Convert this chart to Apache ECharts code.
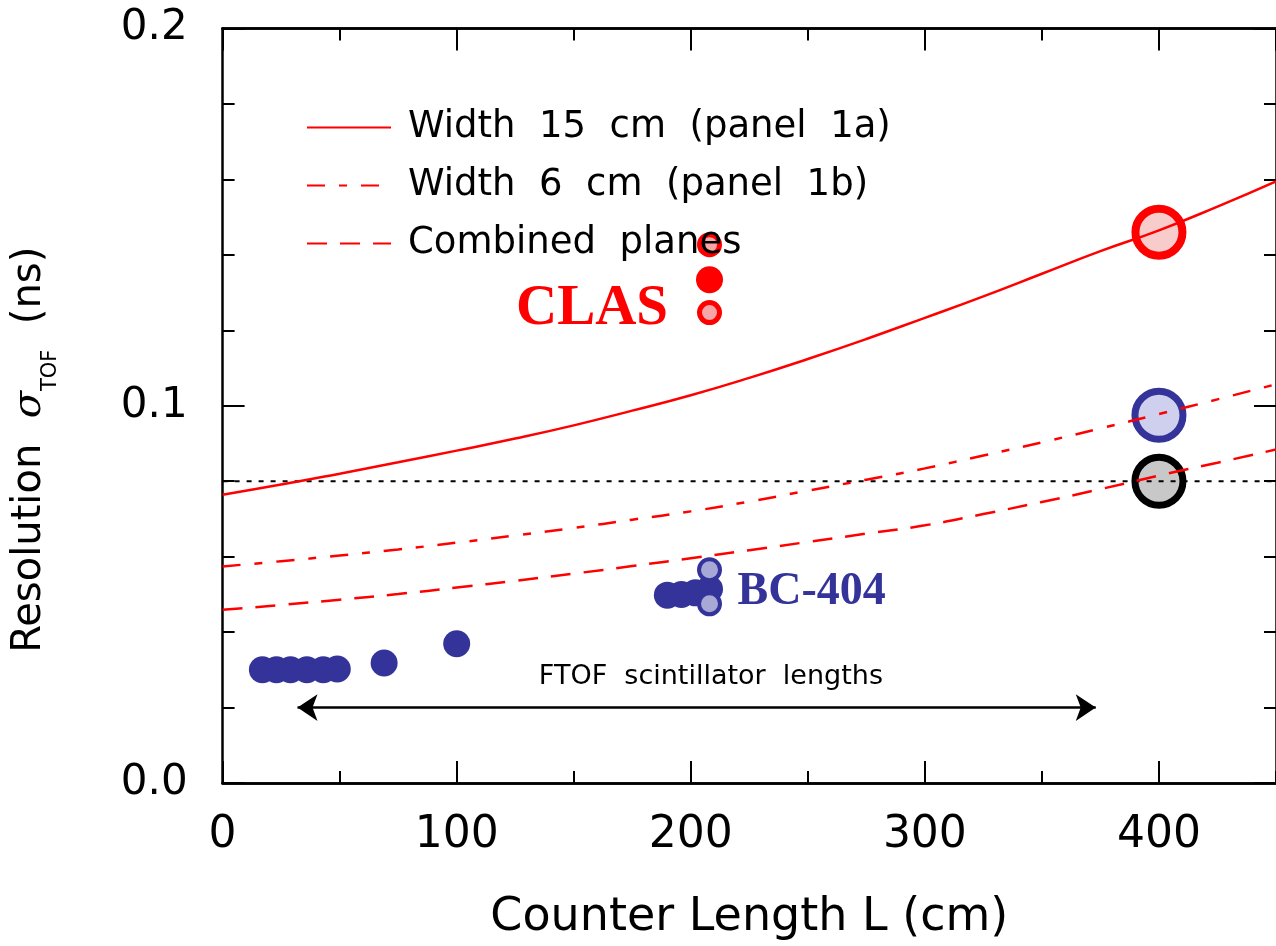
<!DOCTYPE html>
<html><head><meta charset="utf-8">
<script src="https://cdn.jsdelivr.net/npm/echarts@6/dist/echarts.min.js"></script>
<style>html,body{margin:0;padding:0;background:#fff}#c{width:1276px;height:946px}</style>
</head><body><div id="c"></div>
<script>
// ---- data ----
const lengths   = [0,25,50,75,100,125,150,175,200,225,250,275,300,325,350,375,400,425,450];
const width15   = [0.0764,0.0791,0.0820,0.0850,0.0881,0.0913,0.0948,0.0987,0.1028,0.1074,0.1124,0.1177,0.1233,0.1290,0.1350,0.1410,0.1465,0.1528,0.1595];
const width6    = [0.0574,0.0588,0.0603,0.0619,0.0637,0.0656,0.0676,0.0698,0.0720,0.0746,0.0775,0.0804,0.0834,0.0868,0.0903,0.0940,0.0978,0.1017,0.1057];
const combined  = [0.0459,0.0472,0.0486,0.0501,0.0518,0.0536,0.0555,0.0575,0.0596,0.0617,0.0639,0.0661,0.0683,0.0713,0.0745,0.0779,0.0815,0.0849,0.0884];
const thresholdL = [0, 450];
const thresholdSigma = [0.08, 0.08];
const bc404L     = [17,23,29,36,43,49,69,100,190,196,202,208];
const bc404Sigma = [0.0300,0.0300,0.0300,0.0300,0.0300,0.0302,0.0318,0.0369,0.0498,0.0500,0.0504,0.0514];
const bc404HatchL = [208,208];
const bc404HatchSigma = [0.0565,0.0475];
const clasFilledL = [208];
const clasFilledSigma = [0.1334];
const clasHatchL = [208,208];
const clasHatchSigma = [0.1427,0.1247];
const projL = [400];
const proj15Sigma = [0.1460];
const proj6Sigma = [0.0975];
const projCombSigma = [0.0800];
const arrowL = [32, 373];
const arrowSigma = 0.02;
const seriesNames = ['Width  15  cm  (panel  1a)','Width  6  cm  (panel  1b)','Combined  planes'];
const annotations = [
  {text:'CLAS', at:[190.3,0.1257], align:'right', color:'#ff0000', font:'bold 57px "Liberation Serif", serif'},
  {text:'BC-404', at:[220,0.0507], align:'left', color:'#333399', font:'bold 46px "Liberation Serif", serif'},
  {text:'FTOF  scintillator  lengths', at:[208.6,0.0281], align:'center', color:'#000', font:'27px "DejaVu Sans", sans-serif'}
];

const zip = (a,b) => a.map((v,i)=>[v,b[i]]);
const SANS='"DejaVu Sans", sans-serif';
const chart = echarts.init(document.getElementById('c'), null, {renderer:'canvas'});
const gridRect = {left:222.6, right:-9, top:28.5, bottom:163, containLabel:false};
const lineSt = {color:'#000', width:2.5};
function xAx(grid, pos, interval, len, labels){
  return {type:'value', gridIndex:grid, position:pos, min:0, max:450, interval:interval,
    axisLine:{show:true,onZero:false,lineStyle:lineSt},
    axisTick:{show:true,inside:true,length:len,lineStyle:{color:'#000',width:2}},
    splitLine:{show:false},
    axisLabel:{show:labels, showMaxLabel:false, margin:31, color:'#000', fontSize:44, fontFamily:SANS},
  };
}
function yAx(grid, pos, labels){
  return {type:'value', gridIndex:grid, position:pos, min:0, max:0.2, interval:0.1,
    axisLine:{show:true,onZero:false,lineStyle:lineSt},
    axisTick:{show:true,inside:true,length:22,lineStyle:{color:'#000',width:2}},
    minorTick:{show:true,splitNumber:5,length:12,lineStyle:{color:'#000',width:2}},
    splitLine:{show:false}, minorSplitLine:{show:false},
    axisLabel:{show:labels, margin:35, color:'#000', fontSize:42, fontFamily:SANS, formatter:v=>v.toFixed(1)}
  };
}
const xMain = xAx(0,'bottom',100,22,true);
xMain.name='Counter Length L (cm)'; xMain.nameLocation='middle'; xMain.nameGap=112;
xMain.nameTextStyle={fontSize:46, fontFamily:SANS, color:'#000'};
const yMain = yAx(0,'left',true);
yMain.name='{a|Resolution  }{b|σ}{s|TOF}{a|  (ns)}{g| }';
yMain.nameLocation='middle'; yMain.nameRotate=90; yMain.nameGap=162;
yMain.nameTextStyle={color:'#000', rich:{
  a:{fontSize:40, fontFamily:SANS, lineHeight:62, verticalAlign:'middle', color:'#000'},
  b:{fontSize:40, fontFamily:'"DejaVu Serif", serif', fontStyle:'italic', lineHeight:62, verticalAlign:'middle', color:'#000'},
  s:{fontSize:21, fontFamily:SANS, lineHeight:21, verticalAlign:'bottom', color:'#000'},
  g:{width:88, fontSize:10}
}};

const curve = (name, data, type) => ({name, type:'line', xAxisIndex:0, yAxisIndex:0,
  data, smooth:true, symbol:'none', silent:true,
  itemStyle:{color:'#ff0000'},
  lineStyle:{color:'#ff0000', width:2.5, type}});
const solid = c => ({color:c, opacity:1});
const ring = (fill, border, bw) => ({color:fill, borderColor:border, borderWidth:bw, opacity:1});

const option = {
  animation:false,
  backgroundColor:'#fff',
  grid:[gridRect, Object.assign({}, gridRect)],
  xAxis:[xMain, xAx(0,'top',100,22,false), xAx(1,'bottom',50,12,false), xAx(1,'top',50,12,false)],
  yAxis:[yMain, yAx(0,'right',false), {type:'value',gridIndex:1,min:0,max:0.2,show:false}],
  legend:{orient:'vertical', left:306, top:109, padding:0, itemGap:21, itemWidth:84, itemHeight:14,
    data:seriesNames, selectedMode:false,
    itemStyle:{color:'transparent', borderWidth:0, opacity:0},
    textStyle:{fontSize:37, fontFamily:SANS, color:'#000', padding:[0,0,0,12]}},
  series:[
    {type:'scatter', name:'proj15', data:zip(projL,proj15Sigma), symbolSize:47,
      itemStyle:ring('#f9cccc','#ff0000',8)},
    {type:'scatter', name:'proj6', data:zip(projL,proj6Sigma), symbolSize:48,
      itemStyle:ring('#cfcfee','#333399',7)},
    {type:'scatter', name:'projComb', data:zip(projL,projCombSigma), symbolSize:48,
      itemStyle:ring('#c8c8c8','#000000',7)},
    {type:'scatter', name:'clasFilled', data:zip(clasFilledL,clasFilledSigma), symbolSize:27,
      itemStyle:solid('#ff0000')},
    {type:'scatter', name:'clasHatch', data:zip(clasHatchL,clasHatchSigma), symbolSize:20,
      itemStyle:ring('#f6a6a6','#ff0000',5)},
    {type:'scatter', name:'bc404', data:zip(bc404L,bc404Sigma), symbolSize:27,
      itemStyle:solid('#333399')},
    {type:'scatter', name:'bc404Hatch', data:zip(bc404HatchL,bc404HatchSigma), symbolSize:21,
      itemStyle:ring('#a8a8d6','#333399',4)},
    {type:'line', name:'threshold', data:zip(thresholdL,thresholdSigma), symbol:'none', silent:true,
      lineStyle:{color:'#000', width:2, type:[5,7]},
      markLine:{silent:true, symbol:['arrow','arrow'], symbolSize:20, label:{show:false},
        lineStyle:{color:'#000', width:2.5, type:'solid'},
        data:[[{coord:[arrowL[0],arrowSigma]},{coord:[arrowL[1],arrowSigma]}]]}},
    curve(seriesNames[0], zip(lengths,width15), 'solid'),
    curve(seriesNames[1], zip(lengths,width6), [18,14,8,14]),
    curve(seriesNames[2], zip(lengths,combined), [20,13])
  ]
};
chart.setOption(option);
const g = annotations.map(a=>{
  const p = chart.convertToPixel({gridIndex:0}, a.at);
  return {type:'text', x:p[0], y:p[1], silent:true,
    style:{text:a.text, font:a.font, fill:a.color, textAlign:a.align, textVerticalAlign:'middle'}};
});
chart.setOption({graphic:g});
</script></body></html>
